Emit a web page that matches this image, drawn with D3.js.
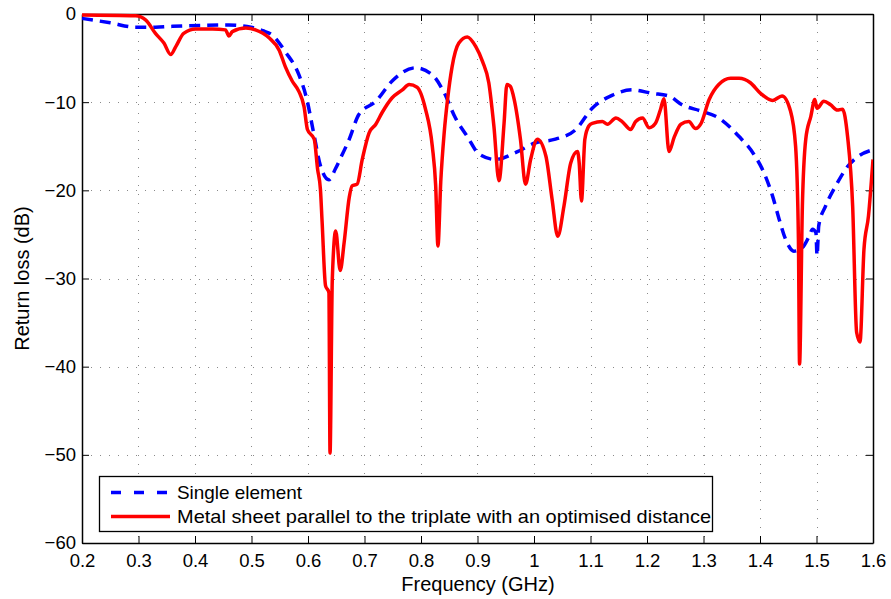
<!DOCTYPE html>
<html>
  <head>
    <meta charset="utf-8">
    <script src="https://d3js.org/d3.v7.min.js"></script>
    <style>
      body { margin: 0; background: white; }
      text { font-family: "Liberation Sans", Arial, sans-serif; fill: black; }
      .grid line { stroke: #8a8a8a; stroke-width: 1; stroke-dasharray: 1,8; }
    </style>
  </head>
  <body>
    <div id="chart"></div>
    <script>
      // single element
      var singleFreq = [0.2, 0.25, 0.295, 0.33, 0.36, 0.412, 0.46, 0.499, 0.52, 0.537, 0.56, 0.584, 0.598, 0.61, 0.622, 0.637, 0.649, 0.658, 0.673, 0.69, 0.72, 0.749, 0.79, 0.82, 0.84, 0.861, 0.882, 0.903, 0.932, 0.968, 1.003, 1.038, 1.074, 1.103, 1.139, 1.174, 1.209, 1.239, 1.262, 1.295, 1.327, 1.363, 1.389, 1.407, 1.422, 1.434, 1.445, 1.46, 1.475, 1.487, 1.493, 1.499, 1.501, 1.504, 1.516, 1.534, 1.555, 1.575, 1.6]
      var singleDb = [-0.5, -1.0, -1.5, -1.5, -1.4, -1.3, -1.25, -1.5, -1.9, -2.4, -4.3, -6.9, -9.7, -13.5, -17.2, -18.8, -17.5, -16.3, -14.2, -11.4, -9.9, -7.6, -6.1, -6.9, -8.8, -11.8, -13.9, -15.9, -16.5, -15.7, -14.6, -14.2, -13.1, -10.7, -9.2, -8.6, -9.0, -9.3, -10.3, -11.0, -11.8, -13.9, -15.9, -18.0, -20.6, -23.3, -25.5, -26.9, -26.5, -25.2, -24.4, -24.8, -27.4, -24.0, -21.8, -19.5, -17.3, -16.1, -15.4]

      // metal sheet parallel to the triplate
      var metalFreq = [0.2, 0.295, 0.313, 0.33, 0.345, 0.357, 0.366, 0.38, 0.401, 0.431, 0.454, 0.46, 0.466, 0.49, 0.507, 0.531, 0.549, 0.56, 0.572, 0.584, 0.593, 0.599, 0.611, 0.617, 0.622, 0.625, 0.631, 0.637, 0.639, 0.643, 0.649, 0.657, 0.664, 0.673, 0.678, 0.687, 0.696, 0.708, 0.72, 0.731, 0.749, 0.767, 0.779, 0.793, 0.808, 0.82, 0.826, 0.83, 0.835, 0.841, 0.847, 0.855, 0.867, 0.882, 0.897, 0.909, 0.92, 0.929, 0.938, 0.947, 0.952, 0.958, 0.965, 0.976, 0.985, 0.994, 1.006, 1.021, 1.032, 1.042, 1.053, 1.065, 1.077, 1.08, 1.084, 1.09, 1.097, 1.103, 1.121, 1.13, 1.145, 1.156, 1.171, 1.18, 1.192, 1.204, 1.215, 1.224, 1.23, 1.239, 1.248, 1.26, 1.274, 1.286, 1.295, 1.31, 1.327, 1.348, 1.363, 1.383, 1.401, 1.422, 1.439, 1.454, 1.463, 1.468, 1.47, 1.475, 1.481, 1.49, 1.497, 1.501, 1.513, 1.525, 1.537, 1.546, 1.555, 1.564, 1.571, 1.577, 1.584, 1.592, 1.6]
      var metalDb = [-0.1, -0.2, -0.7, -2.2, -3.3, -4.6, -3.7, -2.2, -1.7, -1.7, -1.8, -2.5, -2.0, -1.6, -1.8, -2.7, -4.1, -6.0, -7.6, -8.8, -10.5, -13.1, -14.2, -17.6, -19.9, -23.6, -30.8, -31.6, -49.8, -30.1, -24.6, -29.1, -25.9, -20.8, -19.5, -19.3, -16.5, -13.5, -12.5, -11.2, -9.5, -8.6, -8.0, -8.3, -10.8, -15.0, -19.5, -26.3, -19.0, -13.5, -9.7, -6.0, -3.3, -2.6, -3.7, -5.4, -7.8, -12.7, -18.9, -12.4, -8.0, -8.2, -9.7, -14.2, -19.3, -16.5, -14.2, -16.1, -21.0, -25.2, -21.8, -16.9, -15.6, -16.9, -21.2, -14.2, -12.7, -12.4, -12.2, -12.5, -11.8, -12.2, -13.1, -12.2, -11.8, -12.9, -12.4, -10.8, -9.6, -15.6, -14.0, -12.5, -12.2, -13.0, -12.5, -9.7, -8.0, -7.3, -7.3, -7.8, -9.0, -9.8, -9.3, -11.0, -15.0, -25.5, -39.7, -21.8, -14.2, -11.6, -9.7, -10.7, -9.9, -10.3, -10.9, -10.8, -13.9, -21.8, -36.1, -37.2, -26.7, -22.9, -16.5]

      var xTicks = [0.2, 0.3, 0.4, 0.5, 0.6, 0.7, 0.8, 0.9, 1.0, 1.1, 1.2, 1.3, 1.4, 1.5, 1.6]
      var yTicks = [0, -10, -20, -30, -40, -50, -60]
      var legendLabels = ['Single element', 'Metal sheet parallel to the triplate with an optimised distance']

      var width = 891, height = 599
      var plotLeft = 82, plotRight = 873, plotTop = 14, plotBottom = 543

      var x = d3.scaleLinear().domain([0.2, 1.6]).range([plotLeft, plotRight])
      var y = d3.scaleLinear().domain([-60, 0]).range([plotBottom, plotTop])

      var svg = d3.select('#chart').append('svg')
        .attr('width', width)
        .attr('height', height)

      svg.append('defs').append('clipPath').attr('id', 'plotclip')
        .append('rect')
        .attr('x', plotLeft).attr('y', plotTop - 2)
        .attr('width', plotRight - plotLeft).attr('height', plotBottom - plotTop + 4)

      //dotted grid
      var grid = svg.append('g').attr('class', 'grid')
      grid.selectAll('.gx').data(xTicks.slice(1, -1)).enter().append('line')
        .attr('x1', function(d){ return Math.round(x(d)) + 0.5 })
        .attr('x2', function(d){ return Math.round(x(d)) + 0.5 })
        .attr('y1', plotTop).attr('y2', plotBottom)
      grid.selectAll('.gy').data(yTicks.slice(1, -1)).enter().append('line')
        .attr('y1', function(d){ return Math.round(y(d)) + 0.5 })
        .attr('y2', function(d){ return Math.round(y(d)) + 0.5 })
        .attr('x1', plotLeft).attr('x2', plotRight)

      //axes, ticks inward on all four sides
      var fmt = function(d){ return d3.format('')(d).replace('-', '\u2212') }
      var xAxis = d3.axisBottom(x).tickValues(xTicks).tickSizeInner(-7).tickSizeOuter(0)
        .tickPadding(11).tickFormat(function(d){ return d3.format('')(+d.toFixed(1)) })
      var yAxis = d3.axisLeft(y).tickValues(yTicks).tickSizeInner(-7).tickSizeOuter(0)
        .tickPadding(6).tickFormat(fmt)

      var gx = svg.append('g').attr('transform', 'translate(0,' + plotBottom + ')').call(xAxis)
      var gy = svg.append('g').attr('transform', 'translate(' + plotLeft + ',0)').call(yAxis)
      svg.append('g').attr('transform', 'translate(0,' + plotTop + ')')
        .call(d3.axisTop(x).tickValues(xTicks).tickSizeInner(-7).tickSizeOuter(0).tickFormat(''))
      svg.append('g').attr('transform', 'translate(' + plotRight + ',0)')
        .call(d3.axisRight(y).tickValues(yTicks).tickSizeInner(-7).tickSizeOuter(0).tickFormat(''))

      svg.selectAll('.domain').attr('stroke', 'black').attr('stroke-width', 1.5)
      svg.selectAll('.tick line').attr('stroke', 'black')
      svg.selectAll('.tick text').style('font-size', '18.5px').attr('fill', 'black')
        .style('font-family', '"Liberation Sans", Arial, sans-serif')

      //curves
      var line = d3.line()
        .curve(d3.curveMonotoneX)
        .x(function(d){ return x(d[0]) })
        .y(function(d){ return y(d[1]) })

      var plot = svg.append('g').attr('clip-path', 'url(#plotclip)')
      plot.append('path')
        .datum(d3.zip(singleFreq, singleDb))
        .attr('d', line)
        .attr('fill', 'none')
        .attr('stroke', '#0000ff')
        .attr('stroke-width', 3.5)
        .attr('stroke-dasharray', '11,7')
      plot.append('path')
        .datum(d3.zip(metalFreq, metalDb))
        .attr('d', line)
        .attr('fill', 'none')
        .attr('stroke', '#ff0000')
        .attr('stroke-width', 3.5)
        .attr('stroke-linejoin', 'round')

      //axis labels
      svg.append('text')
        .attr('x', 478)
        .attr('y', 591)
        .attr('text-anchor', 'middle')
        .style('font-size', '20px')
        .text('Frequency (GHz)')
      svg.append('text')
        .attr('transform', 'translate(29,' + ((plotTop + plotBottom) / 2) + ') rotate(-90)')
        .attr('text-anchor', 'middle')
        .style('font-size', '20px')
        .text('Return loss (dB)')

      //legend
      var legend = svg.append('g')
      legend.append('rect')
        .attr('x', 99.5).attr('y', 476.5)
        .attr('width', 613).attr('height', 55)
        .attr('fill', 'white')
        .attr('stroke', 'black')
        .attr('stroke-width', 1.3)
      var legendStyle = [{color: '#0000ff', dash: '10,13', w: 125}, {color: '#ff0000', dash: null, w: 534}]
      legendLabels.forEach(function(label, i){
        var ly = 492.5 + i * 24
        legend.append('line')
          .attr('x1', 111).attr('x2', 170)
          .attr('y1', ly).attr('y2', ly)
          .attr('stroke', legendStyle[i].color)
          .attr('stroke-width', 3.5)
          .attr('stroke-dasharray', legendStyle[i].dash)
        legend.append('text')
          .attr('x', 177)
          .attr('y', ly + 6.5)
          .style('font-size', '18.5px')
          .attr('textLength', legendStyle[i].w)
          .attr('lengthAdjust', 'spacingAndGlyphs')
          .text(label)
      })
    </script>
  </body>
</html>
